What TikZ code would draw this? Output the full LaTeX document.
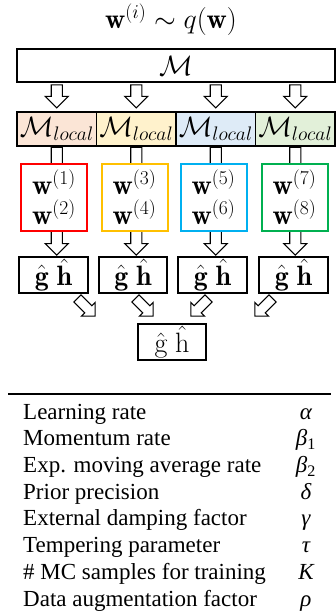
\RequirePackage{fix-cm}
\documentclass[tikz,border=0pt]{standalone}
\usepackage{fontspec}
\newfontfamily\tabfont{Liberation Serif}
\usetikzlibrary{shapes.arrows,calc}

\definecolor{localorange}{HTML}{FBE5D6}
\definecolor{localgold}{HTML}{FFF2CC}
\definecolor{localblue}{HTML}{DEEBF7}
\definecolor{localgreen}{HTML}{E2F0D9}
\definecolor{wred}{HTML}{FF0000}
\definecolor{wgold}{HTML}{FFC000}
\definecolor{wblue}{HTML}{00B0F0}
\definecolor{wgreen}{HTML}{00B050}

\begin{document}
\begin{tikzpicture}[x=1pt, y=-1pt,
    every node/.style={font=\fontsize{28}{30}\selectfont},
    box/.style={draw, line width=1.3pt, inner sep=0pt},
    localbox/.style={box, minimum width=79.5pt, minimum height=34pt},
    wbox/.style={line width=2pt, fill=white, inner sep=0pt, minimum width=66pt, minimum height=67pt, align=center},
    gbox/.style={box, fill=white, minimum width=69pt, minimum height=36pt},
    barrow/.style={single arrow, draw, line width=1.1pt, fill=white, inner xsep=0pt, inner ysep=5pt,
        single arrow head extend=6pt, anchor=tail, rotate=-90},
    sarrow/.style={barrow, inner ysep=4.5pt, single arrow head extend=4.5pt, minimum height=25pt}]

    \useasboundingbox (0,0) rectangle (336,611);

    % sampling
    \node (sample) at (171,20) {$\mathbf{w}^{(i)} \sim q(\mathbf{w})$};

    % global model
    \node[box, minimum width=318pt, minimum height=33pt] (model) at (176,65.5) {$\mathcal{M}$};

    % local models
    \node[localbox, fill=localorange] (local1) at (56.75,129) {$\mathcal{M}_{local}$};
    \node[localbox, fill=localgold] (local2) at (136.25,129) {$\mathcal{M}_{local}$};
    \node[localbox, fill=localblue] (local3) at (215.75,129) {$\mathcal{M}_{local}$};
    \node[localbox, fill=localgreen] (local4) at (295.25,129) {$\mathcal{M}_{local}$};

    % model -> local models
    \node[barrow, minimum height=23pt] at ($(local1.north)+(0,-27)$) {};
    \node[barrow, minimum height=23pt] at ($(local2.north)+(0,-27)$) {};
    \node[barrow, minimum height=23pt] at ($(local3.north)+(0,-27)$) {};
    \node[barrow, minimum height=23pt] at ($(local4.north)+(0,-27)$) {};

    % local models -> gradients (behind the samples)
    \node[barrow, minimum height=108pt] at (local1.south) {};
    \node[barrow, minimum height=108pt] at (local2.south) {};
    \node[barrow, minimum height=108pt] at (local3.south) {};
    \node[barrow, minimum height=108pt] at (local4.south) {};

    % samples
    \node[wbox, draw=wred] (samples1) at (54,197) {$\mathbf{w}^{(1)}$\\$\mathbf{w}^{(2)}$};
    \node[wbox, draw=wgold] (samples2) at (134.5,197) {$\mathbf{w}^{(3)}$\\$\mathbf{w}^{(4)}$};
    \node[wbox, draw=wblue] (samples3) at (213.5,197) {$\mathbf{w}^{(5)}$\\$\mathbf{w}^{(6)}$};
    \node[wbox, draw=wgreen] (samples4) at (294.5,197) {$\mathbf{w}^{(7)}$\\$\mathbf{w}^{(8)}$};

    % local gradients
    \node[gbox] (grad1) at (53.5,275) {$\hat{\mathbf{g}}\;\hat{\mathbf{h}}$};
    \node[gbox, minimum width=68pt] (grad2) at (133,275) {$\hat{\mathbf{g}}\;\hat{\mathbf{h}}$};
    \node[gbox] (grad3) at (212.5,275) {$\hat{\mathbf{g}}\;\hat{\mathbf{h}}$};
    \node[gbox] (grad4) at (293.5,275) {$\hat{\mathbf{g}}\;\hat{\mathbf{h}}$};

    % gradients -> average
    \node[sarrow, rotate=45] at (77,298) {};
    \node[sarrow, rotate=45] at (135,298) {};
    \node[sarrow, rotate=-45] at (209,298) {};
    \node[sarrow, rotate=-45] at (273,298) {};

    % averaged gradients
    \node[gbox, minimum width=68pt] (avg) at (172,342) {$\hat{\mathrm{g}}\;\hat{\mathrm{h}}$};

    % hyperparameters
    \node[anchor=north west, inner sep=0pt, font=\tabfont\fontsize{23}{26.7}\selectfont] (params) at (8,400.3) {%
        \setlength{\tabcolsep}{15pt}%
        \begin{tabular}{lc}
            Learning rate & {\itshape α}\\
            Momentum rate & {\itshape β}\textsubscript{1}\\
            Exp. moving average rate & {\itshape β}\textsubscript{2}\\
            Prior precision & {\itshape δ}\\
            External damping factor & {\itshape γ}\\
            Tempering parameter & {\itshape τ}\\
            \# MC samples for training & {\itshape K}\\
            Data augmentation factor & {\itshape ρ}\\
        \end{tabular}};
    \draw[line width=1.8pt] ($(params.north west)+(0,-6)$) -- ($(params.north east)+(0,-6)$);

\end{tikzpicture}
\end{document}
